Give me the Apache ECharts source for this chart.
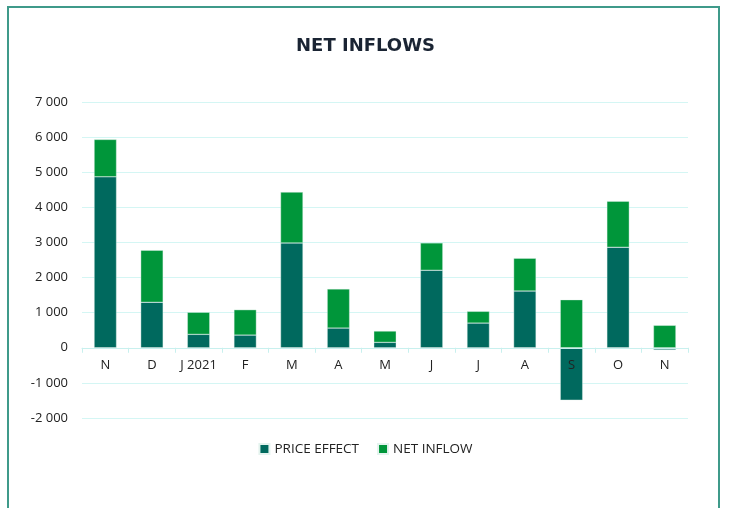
<!DOCTYPE html>
<html>
<head>
<meta charset="utf-8">
<script src="https://cdn.jsdelivr.net/npm/echarts@6/dist/echarts.min.js"></script>
<style>
html,body{margin:0;padding:0;background:#fff;overflow:hidden;}
#frame{position:absolute;left:7px;top:6px;width:709px;height:560px;border:2px solid #3f9a8a;border-bottom:none;}
#chart{position:absolute;left:0;top:0;width:731px;height:508px;}
</style>
</head>
<body>
<div id="frame"></div>
<div id="chart"></div>
<script>
const categories = ['N','D','J 2021','F','M','A','M','J','J','A','S','O','N'];
const priceEffect = [4870, 1295, 382, 362, 2986, 562, 154, 2208, 704, 1617, -1492, 2863, -60];
const netInflow = [1063, 1483, 628, 722, 1446, 1112, 322, 778, 334, 932, 1370, 1312, 639];
const seriesNames = ['PRICE EFFECT', 'NET INFLOW'];
const yTicks = {min: -2000, max: 7000, interval: 1000};

const chart = echarts.init(document.getElementById('chart'));
const fmt = v => {
  const s = Math.abs(v).toString().replace(/\B(?=(\d{3})+(?!\d))/g, ' ');
  return (v < 0 ? '-' : '') + s;
};
const gridTop = 102, gridBottom = 90, plotH = 508 - gridTop - gridBottom;
const zeroOffset = -plotH * (0 - yTicks.min) / (yTicks.max - yTicks.min);
chart.setOption({
  animation: false,
  title: {
    text: 'NET INFLOWS', left: 'center', top: 32,
    textStyle: {fontFamily: 'DejaVu Sans', fontSize: 18, fontWeight: 'bold', color: '#1a2433'}
  },
  legend: {
    data: seriesNames, left: 'center', top: 437, itemWidth: 10, itemHeight: 10, itemGap: 18,
    icon: 'rect',
    textStyle: {fontFamily: 'Open Sans', fontSize: 13.5, color: '#222'}
  },
  grid: {left: 82, right: 43, top: gridTop, bottom: gridBottom, containLabel: false},
  xAxis: {
    type: 'category', data: categories, z: 5,
    axisLine: {onZero: false, lineStyle: {color: '#c8f0ee', width: 1}},
    offset: zeroOffset,
    axisTick: {show: true, length: 5, lineStyle: {color: '#c8f0ee'}},
    axisLabel: {interval: 0, fontFamily: 'Open Sans', fontSize: 13, color: '#222', margin: 11}
  },
  yAxis: {
    type: 'value', min: yTicks.min, max: yTicks.max, interval: yTicks.interval,
    axisLine: {show: false}, axisTick: {show: false},
    splitLine: {lineStyle: {color: '#d4f6f4', width: 1}},
    axisLabel: {fontFamily: 'Open Sans', fontSize: 13, color: '#222', margin: 14, formatter: fmt}
  },
  series: [
    {name: seriesNames[0], type: 'bar', stack: 'a', data: priceEffect, barWidth: '48%',
     itemStyle: {color: '#00695e', borderColor: '#e4f3ee', borderWidth: 0.4}},
    {name: seriesNames[1], type: 'bar', stack: 'a', data: netInflow, barWidth: '48%',
     itemStyle: {color: '#00963a', borderColor: '#e4f3ee', borderWidth: 0.4}}
  ]
});
</script>
</body>
</html>
